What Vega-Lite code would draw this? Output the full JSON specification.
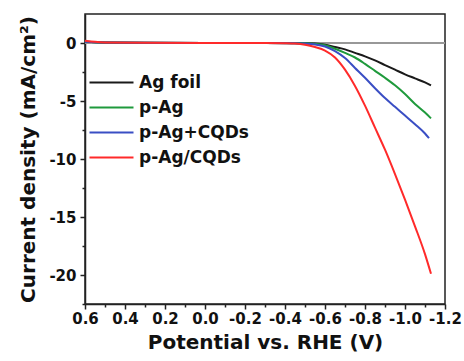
{
  "$schema": "https://vega.github.io/schema/vega-lite/v6.json",
  "width": 360,
  "height": 290,
  "autosize": {"type": "none"},
  "padding": {"left": 85, "top": 14, "right": 19, "bottom": 57},
  "background": "white",
  "config": {
    "view": {"stroke": "#222", "strokeWidth": 1.5},
    "font": "DejaVu Sans",
    "axis": {
      "domainColor": "#222", "domainWidth": 1.5, "tickColor": "#222", "tickWidth": 1.5,
      "labelFont": "DejaVu Sans", "labelFontWeight": "bold", "labelFontSize": 15, "labelColor": "#111",
      "titleFont": "DejaVu Sans", "titleFontWeight": "bold", "titleFontSize": 20, "titleColor": "#111",
      "grid": false
    }
  },
  "data": {"values": [
    {"V": 0.6, "J": 0.1, "s": "Ag foil"}, {"V": 0.5, "J": 0.05, "s": "Ag foil"}, {"V": 0.3, "J": 0.02, "s": "Ag foil"}, {"V": 0.0, "J": 0.0, "s": "Ag foil"}, {"V": -0.3, "J": 0.0, "s": "Ag foil"}, {"V": -0.5, "J": -0.02, "s": "Ag foil"}, {"V": -0.55, "J": -0.05, "s": "Ag foil"}, {"V": -0.6, "J": -0.15, "s": "Ag foil"}, {"V": -0.65, "J": -0.35, "s": "Ag foil"}, {"V": -0.7, "J": -0.55, "s": "Ag foil"}, {"V": -0.75, "J": -0.85, "s": "Ag foil"}, {"V": -0.8, "J": -1.15, "s": "Ag foil"}, {"V": -0.85, "J": -1.5, "s": "Ag foil"}, {"V": -0.9, "J": -1.9, "s": "Ag foil"}, {"V": -0.95, "J": -2.3, "s": "Ag foil"}, {"V": -1.0, "J": -2.7, "s": "Ag foil"}, {"V": -1.05, "J": -3.05, "s": "Ag foil"}, {"V": -1.1, "J": -3.4, "s": "Ag foil"}, {"V": -1.13, "J": -3.65, "s": "Ag foil"},
    {"V": 0.6, "J": 0.1, "s": "p-Ag"}, {"V": 0.5, "J": 0.05, "s": "p-Ag"}, {"V": 0.3, "J": 0.02, "s": "p-Ag"}, {"V": 0.0, "J": 0.0, "s": "p-Ag"}, {"V": -0.3, "J": 0.0, "s": "p-Ag"}, {"V": -0.5, "J": -0.03, "s": "p-Ag"}, {"V": -0.55, "J": -0.08, "s": "p-Ag"}, {"V": -0.6, "J": -0.2, "s": "p-Ag"}, {"V": -0.65, "J": -0.5, "s": "p-Ag"}, {"V": -0.7, "J": -0.85, "s": "p-Ag"}, {"V": -0.75, "J": -1.25, "s": "p-Ag"}, {"V": -0.8, "J": -1.8, "s": "p-Ag"}, {"V": -0.85, "J": -2.4, "s": "p-Ag"}, {"V": -0.9, "J": -3.0, "s": "p-Ag"}, {"V": -0.95, "J": -3.65, "s": "p-Ag"}, {"V": -1.0, "J": -4.4, "s": "p-Ag"}, {"V": -1.05, "J": -5.25, "s": "p-Ag"}, {"V": -1.1, "J": -6.0, "s": "p-Ag"}, {"V": -1.13, "J": -6.5, "s": "p-Ag"},
    {"V": 0.6, "J": 0.1, "s": "p-Ag+CQDs"}, {"V": 0.5, "J": 0.05, "s": "p-Ag+CQDs"}, {"V": 0.3, "J": 0.02, "s": "p-Ag+CQDs"}, {"V": 0.0, "J": 0.0, "s": "p-Ag+CQDs"}, {"V": -0.3, "J": 0.0, "s": "p-Ag+CQDs"}, {"V": -0.45, "J": -0.02, "s": "p-Ag+CQDs"}, {"V": -0.5, "J": -0.05, "s": "p-Ag+CQDs"}, {"V": -0.55, "J": -0.12, "s": "p-Ag+CQDs"}, {"V": -0.6, "J": -0.3, "s": "p-Ag+CQDs"}, {"V": -0.65, "J": -0.7, "s": "p-Ag+CQDs"}, {"V": -0.7, "J": -1.3, "s": "p-Ag+CQDs"}, {"V": -0.75, "J": -2.15, "s": "p-Ag+CQDs"}, {"V": -0.8, "J": -3.0, "s": "p-Ag+CQDs"}, {"V": -0.85, "J": -3.9, "s": "p-Ag+CQDs"}, {"V": -0.9, "J": -4.75, "s": "p-Ag+CQDs"}, {"V": -0.95, "J": -5.5, "s": "p-Ag+CQDs"}, {"V": -1.0, "J": -6.25, "s": "p-Ag+CQDs"}, {"V": -1.05, "J": -7.0, "s": "p-Ag+CQDs"}, {"V": -1.1, "J": -7.8, "s": "p-Ag+CQDs"}, {"V": -1.12, "J": -8.2, "s": "p-Ag+CQDs"},
    {"V": 0.6, "J": 0.2, "s": "p-Ag/CQDs"}, {"V": 0.55, "J": 0.1, "s": "p-Ag/CQDs"}, {"V": 0.5, "J": 0.05, "s": "p-Ag/CQDs"}, {"V": 0.3, "J": 0.02, "s": "p-Ag/CQDs"}, {"V": 0.0, "J": 0.0, "s": "p-Ag/CQDs"}, {"V": -0.3, "J": 0.0, "s": "p-Ag/CQDs"}, {"V": -0.4, "J": -0.02, "s": "p-Ag/CQDs"}, {"V": -0.45, "J": -0.05, "s": "p-Ag/CQDs"}, {"V": -0.5, "J": -0.15, "s": "p-Ag/CQDs"}, {"V": -0.55, "J": -0.35, "s": "p-Ag/CQDs"}, {"V": -0.6, "J": -0.65, "s": "p-Ag/CQDs"}, {"V": -0.65, "J": -1.25, "s": "p-Ag/CQDs"}, {"V": -0.7, "J": -2.3, "s": "p-Ag/CQDs"}, {"V": -0.75, "J": -3.7, "s": "p-Ag/CQDs"}, {"V": -0.8, "J": -5.4, "s": "p-Ag/CQDs"}, {"V": -0.85, "J": -7.3, "s": "p-Ag/CQDs"}, {"V": -0.9, "J": -9.2, "s": "p-Ag/CQDs"}, {"V": -0.95, "J": -11.3, "s": "p-Ag/CQDs"}, {"V": -1.0, "J": -13.5, "s": "p-Ag/CQDs"}, {"V": -1.05, "J": -15.8, "s": "p-Ag/CQDs"}, {"V": -1.1, "J": -18.2, "s": "p-Ag/CQDs"}, {"V": -1.13, "J": -19.9, "s": "p-Ag/CQDs"}
  ]},
  "layer": [
    {
      "mark": {"type": "rule", "color": "#999", "strokeWidth": 1.5},
      "encoding": {
        "y": {"datum": 0, "type": "quantitative",
          "scale": {"domain": [-22.5, 2.5], "nice": false, "zero": false},
          "axis": {
            "title": "Current density (mA/cm²)",
            "values": [0, -2.5, -5, -7.5, -10, -12.5, -15, -17.5, -20, -22.5],
            "labelExpr": "abs(datum.value % 5) > 0.1 ? '' : '' + datum.value",
            "tickSize": {"condition": {"test": "abs(datum.value % 5) > 0.1", "value": 3}, "value": 5},
            "labelPadding": 4, "labelFlush": false, "labelOverlap": false,
            "titlePadding": 10
          }
        }
      }
    },
    {
      "mark": {"type": "line", "strokeWidth": 2, "interpolate": "monotone"},
      "encoding": {
        "x": {"field": "V", "type": "quantitative",
          "scale": {"domain": [0.6, -1.2], "nice": false, "zero": false},
          "axis": {
            "title": "Potential vs. RHE (V)",
            "values": [0.6, 0.5, 0.4, 0.3, 0.2, 0.1, 0.0, -0.1, -0.2, -0.3, -0.4, -0.5, -0.6, -0.7, -0.8, -0.9, -1.0, -1.1, -1.2],
            "labelExpr": "abs(round(datum.value*10)) % 2 == 1 ? '' : replace(format(datum.value, '.1f'), '\u2212', '-')",
            "tickSize": {"condition": {"test": "abs(round(datum.value*10)) % 2 == 1", "value": 3}, "value": 5},
            "labelPadding": 2, "labelFlush": false, "labelOverlap": false,
            "titlePadding": 6
          }
        },
        "y": {"field": "J", "type": "quantitative",
          "scale": {"domain": [-22.5, 2.5], "nice": false, "zero": false},
          "axis": {
            "title": "Current density (mA/cm²)",
            "values": [0, -2.5, -5, -7.5, -10, -12.5, -15, -17.5, -20, -22.5],
            "labelExpr": "abs(datum.value % 5) > 0.1 ? '' : '' + datum.value",
            "tickSize": {"condition": {"test": "abs(datum.value % 5) > 0.1", "value": 3}, "value": 5},
            "labelPadding": 4, "labelFlush": false, "labelOverlap": false,
            "titlePadding": 10
          }
        },
        "color": {"field": "s", "type": "nominal",
          "scale": {"domain": ["Ag foil", "p-Ag", "p-Ag+CQDs", "p-Ag/CQDs"], "range": ["#1a1a1a", "#1f9a3c", "#3a4ec4", "#ff2a2a"]},
          "legend": {
            "title": null, "orient": "none", "legendX": 18, "legendY": 60, "padding": 0,
            "symbolType": "M-4,0H4", "symbolSize": 121, "symbolStrokeWidth": 2, "symbolFillColor": "transparent",
            "labelFont": "DejaVu Sans", "labelFontWeight": "bold", "labelFontSize": 17, "labelColor": "#111",
            "rowPadding": 7, "labelOffset": 19
          }
        }
      }
    }
  ]
}
